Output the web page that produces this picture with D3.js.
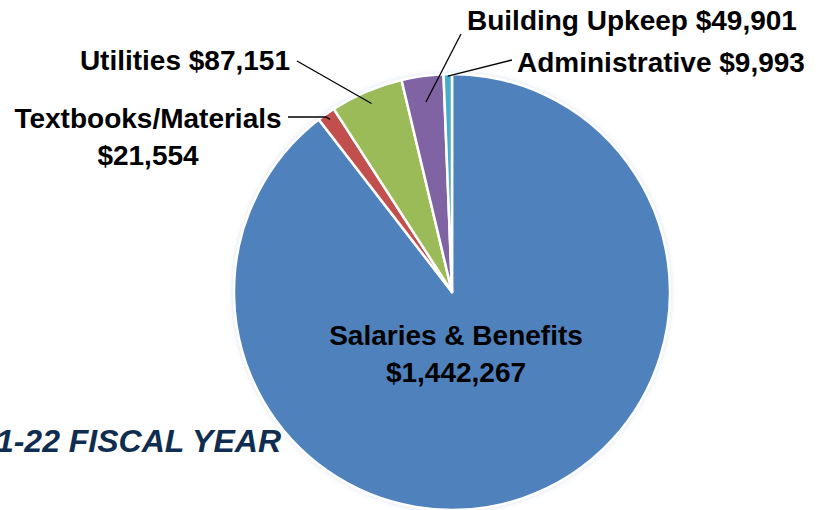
<!DOCTYPE html>
<html lang="en">
<head>
<meta charset="UTF-8">
<title>Expenses 2021-22</title>
<script src="https://d3js.org/d3.v7.min.js"></script>
<style>
  body { margin: 0; background: #fff; }
  svg { display: block; }
  .lbl { font-family: "Liberation Sans", Arial, sans-serif; font-weight: bold; font-size: 28px; fill: #000; }
  .fy { font-family: "Liberation Sans", Arial, sans-serif; font-weight: bold; font-style: italic; font-size: 32px; fill: #0e2d50; }
  .leader { stroke: #000; stroke-width: 1.3; fill: none; }
</style>
</head>
<body>
<div id="chart"></div>
<script>
// data
const categories = ["Salaries & Benefits", "Textbooks/Materials", "Utilities", "Building Upkeep", "Administrative"];
const amounts = [1442267, 21554, 87151, 49901, 9993];
const colors = ["#4f81bd", "#c0504d", "#9bbb59", "#8064a2", "#4bacc6"];
const fiscalLabel = "2021-22 FISCAL YEAR";

const width = 823, height = 510;
const cx = 452, cy = 292, radius = 218;

const svg = d3.select("#chart").append("svg")
  .attr("width", width)
  .attr("height", height);

const defs = svg.append("defs");
const glow = defs.append("filter").attr("id", "glow")
  .attr("x", "-10%").attr("y", "-10%").attr("width", "120%").attr("height", "120%");
glow.append("feDropShadow").attr("dx", 0).attr("dy", 0).attr("stdDeviation", 2.5)
  .attr("flood-color", "#b4c8e2").attr("flood-opacity", 0.5);

const g = svg.append("g").attr("transform", `translate(${cx},${cy})`);

const pie = d3.pie().sort(null).value(d => d.value);
const arcs = pie(categories.map((c, i) => ({ name: c, value: amounts[i], color: colors[i] })));
const arc = d3.arc().innerRadius(0).outerRadius(radius);

g.append("g").attr("filter", "url(#glow)")
  .selectAll("path")
  .data(arcs)
  .join("path")
  .attr("d", arc)
  .attr("fill", d => d.data.color)
  .attr("stroke", "#fff")
  .attr("stroke-width", 2.5)
  .attr("stroke-linejoin", "round");

const fmt = d3.format("$,");

// point on a slice's bisector at a fraction of the radius
function inner(d, k) {
  const a = (d.startAngle + d.endAngle) / 2;
  return [cx + Math.sin(a) * radius * k, cy - Math.cos(a) * radius * k];
}

// label layout: text placement and leader line start
const layout = {
  "Textbooks/Materials": { x: 148, y: 128, anchor: "middle", split: true, k: 0.97, from: [[288, 117], [326, 117]] },
  "Utilities": { x: 290, y: 70, anchor: "end", k: 0.94, from: [[297, 61]] },
  "Building Upkeep": { x: 467, y: 30, anchor: "start", k: 0.88, from: [[461, 34]] },
  "Administrative": { x: 517, y: 72, anchor: "start", k: 0.99, from: [[512, 60]] }
};

arcs.forEach(d => {
  const name = d.data.name;
  if (name === "Salaries & Benefits") {
    const t = svg.append("text").attr("class", "lbl").attr("text-anchor", "middle");
    t.append("tspan").attr("x", 456).attr("y", 345).text(name);
    t.append("tspan").attr("x", 456).attr("y", 382).text(fmt(d.data.value));
    return;
  }
  const L = layout[name];
  const pts = L.from.concat([inner(d, L.k)]);
  svg.append("path").attr("class", "leader").attr("d", d3.line()(pts));
  const t = svg.append("text").attr("class", "lbl").attr("text-anchor", L.anchor);
  if (L.split) {
    t.append("tspan").attr("x", L.x).attr("y", L.y).text(name);
    t.append("tspan").attr("x", L.x).attr("y", L.y + 37).text(fmt(d.data.value));
  } else {
    t.attr("x", L.x).attr("y", L.y).text(name + " " + fmt(d.data.value));
  }
});

// caption runs off the left edge, as in the source slide
svg.append("text").attr("class", "fy")
  .attr("x", 281).attr("y", 452)
  .attr("text-anchor", "end")
  .text(fiscalLabel);
</script>
</body>
</html>
